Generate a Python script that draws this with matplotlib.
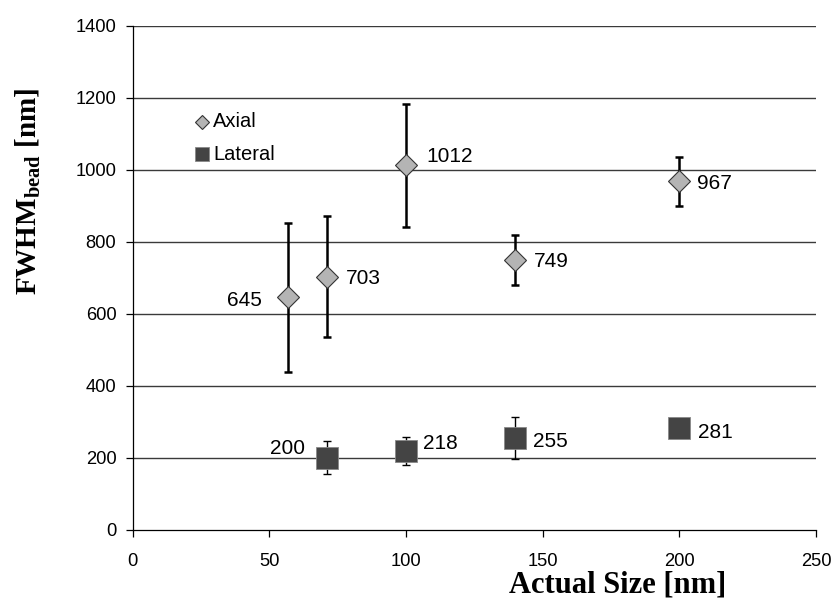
import matplotlib
matplotlib.use("Agg")
import matplotlib.pyplot as plt

plt.rcParams["mathtext.fontset"] = "custom"
plt.rcParams["mathtext.rm"] = "Liberation Serif:bold"
plt.rcParams["mathtext.bf"] = "Liberation Serif:bold"

# Axial FWHM (diamonds)
axial_size = [57, 71, 100, 140, 200]
axial_fwhm = [645, 703, 1012, 749, 967]
axial_err = [207, 167, 171, 69, 67]

# Lateral FWHM (squares)
lateral_size = [71, 100, 140, 200]
lateral_fwhm = [200, 218, 255, 281]
lateral_err = [47, 40, 58, 0]

x_ticks = [0, 50, 100, 150, 200, 250]
y_ticks = [0, 200, 400, 600, 800, 1000, 1200, 1400]

fig = plt.figure(figsize=(8.34, 6.02), dpi=100)
ax = fig.add_axes([0.1591, 0.1204, 0.8193, 0.837])

for y in y_ticks[1:]:
    ax.axhline(y, color="#3a3a3a", lw=1.0, zorder=0)

ax.errorbar(axial_size, axial_fwhm, yerr=axial_err, fmt="none",
            ecolor="black", elinewidth=1.8, capsize=3, capthick=1.8, zorder=2)
ax.errorbar(lateral_size, lateral_fwhm, yerr=lateral_err, fmt="none",
            ecolor="black", elinewidth=1.0, capsize=3.2, capthick=1.0, zorder=2)

ax.plot(axial_size, axial_fwhm, linestyle="none", marker="D", markersize=11.2,
        markerfacecolor="#b4b4b4", markeredgecolor="#333333", markeredgewidth=0.8,
        zorder=3)
ax.plot(lateral_size, lateral_fwhm, linestyle="none", marker="s", markersize=15.5,
        markerfacecolor="#444444", markeredgecolor="#888888", markeredgewidth=0.6,
        zorder=3)

# value labels, offsets in points (dx, dy)
lab_font = dict(fontsize=15, family="Liberation Sans", va="center",
                textcoords="offset points")
axial_off = [(-19.5, -2.4), (13.7, -1.6), (14.9, 6.5), (13, -1.2), (13, -1.2)]
lateral_off = [(-15.6, 6.5), (12.5, 5.5), (13, -2.4), (13.7, -2.9)]
for x, y, off in zip(axial_size, axial_fwhm, axial_off):
    ax.annotate(str(y), (x, y), xytext=off,
                ha="right" if off[0] < 0 else "left", **lab_font)
for x, y, off in zip(lateral_size, lateral_fwhm, lateral_off):
    ax.annotate(str(y), (x, y), xytext=off,
                ha="right" if off[0] < 0 else "left", **lab_font)

# legend drawn by hand, no frame
ax.plot([25.2], [1133], linestyle="none", marker="D", markersize=7.5,
        markerfacecolor="#b4b4b4", markeredgecolor="#333333",
        markeredgewidth=0.8)
ax.plot([25.2], [1043], linestyle="none", marker="s", markersize=10,
        markerfacecolor="#444444", markeredgecolor="#888888",
        markeredgewidth=0.6)
ax.text(29.4, 1133, "Axial", fontsize=14.5, family="Liberation Sans", va="center")
ax.text(29.4, 1043, "Lateral", fontsize=14.5, family="Liberation Sans", va="center")

ax.set_xlim(0, 250)
ax.set_ylim(0, 1400)
ax.set_xticks(x_ticks)
ax.set_yticks(y_ticks)
ax.tick_params(direction="out", length=4.8, width=0.9, labelsize=13.2)
ax.tick_params(axis="x", pad=12)
ax.tick_params(axis="y", pad=7)
for lbl in ax.get_xticklabels() + ax.get_yticklabels():
    lbl.set_family("Liberation Sans")

for s in ["top", "right"]:
    ax.spines[s].set_visible(False)
for s in ["left", "bottom"]:
    ax.spines[s].set_linewidth(0.9)

fig.text(28 / 834, 1 - 191.5 / 602, r"FWHM$_{\mathbf{bead}}$ [nm]", fontsize=21,
         fontweight="bold", family="Liberation Serif", rotation=90,
         ha="center", va="center")
fig.text(618 / 834, 0.016, "Actual Size [nm]", fontsize=22, fontweight="bold",
         family="Liberation Serif", ha="center", va="baseline")

fig.savefig("out.png", dpi=100)
